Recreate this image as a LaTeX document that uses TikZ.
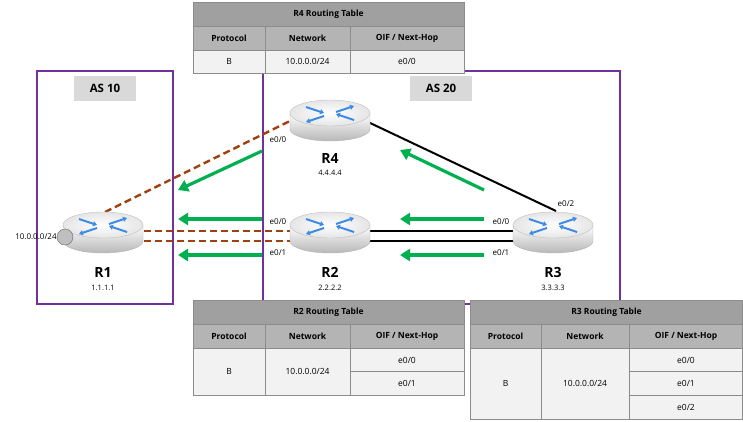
\documentclass[tikz,border=0pt]{standalone}
\usepackage{fontspec}
\setmainfont{Open Sans}
\usetikzlibrary{arrows.meta}
\definecolor{hdr}{HTML}{B4B4B4}
\definecolor{ttl}{HTML}{A0A0A0}
\definecolor{cell}{HTML}{F2F2F2}
\definecolor{brn}{HTML}{A0400F}
\definecolor{grn}{HTML}{00B050}
\definecolor{pur}{HTML}{7030A0}
\definecolor{rblue}{HTML}{3C8CE6}
\tikzset{
  asbox/.style={draw=pur,line width=1.3pt},
  aslabel/.style={fill=black!15,font=\bfseries\fontsize{11.5}{12}\selectfont,minimum width=62pt,minimum height=25pt,inner sep=0pt},
  dsh/.style={brn,line width=2.4pt,dash pattern=on 7pt off 4pt},
  blk/.style={black,line width=2pt},
  garr/.style={grn,line width=3.2pt,-{Triangle[length=10pt,width=12pt]}},
  ifl/.style={font=\fontsize{8}{9}\selectfont,inner sep=0pt},
  rname/.style={font=\bfseries\fontsize{14}{15}\selectfont,inner sep=0pt},
  rip/.style={font=\fontsize{7.5}{8}\selectfont,inner sep=0pt},
  tcell/.style={draw=black!45,line width=0.6pt},
  tt/.style={font=\fontsize{8.5}{10}\selectfont,inner sep=0pt},
  tb/.style={font=\bfseries\fontsize{8.5}{10}\selectfont,inner sep=0pt},
  rarr/.style={rblue,line width=2pt,-{Triangle[length=4pt,width=5pt]}},
  router/.pic={
    \shade[top color=white,bottom color=black!28,draw=black!30] (-40,0) -- (-40,16) arc[start angle=180,end angle=0,x radius=40,y radius=12] -- (40,0) -- cycle;
    \shade[inner color=white,outer color=black!10,draw=black!25] (0,0) ellipse[x radius=40,y radius=13];
    \draw[rarr] (-24,-6) -- (-6,0);
    \draw[rarr] (-6,3) -- (-24,9);
    \draw[rarr] (6,-1) -- (24,-7);
    \draw[rarr] (24,7) -- (6,1);
  }
}
\begin{document}
\begin{tikzpicture}[x=1pt,y=-1pt]
\useasboundingbox (0,0) rectangle (743,421);
% AS boxes
\draw[asbox] (37,71) rectangle (173,304);
\draw[asbox] (263,71) rectangle (620,304);
\node[aslabel] (as10) at (105,88) {AS 10};
\node[aslabel] (as20) at (441,88) {AS 20};
% links
\coordinate (r1a) at (105,212); \coordinate (r4a) at (292,120);
\draw[dsh] (r1a) -- (r4a);
\coordinate (r1b) at (144,231); \coordinate (r2b) at (292,231);
\coordinate (r1c) at (144,241); \coordinate (r2c) at (292,241);
\draw[dsh] (r1b) -- (r2b); \draw[dsh] (r1c) -- (r2c);
\coordinate (r2d) at (368,231); \coordinate (r3d) at (515,231);
\coordinate (r2e) at (368,241); \coordinate (r3e) at (515,241);
\draw[blk] (r2d) -- (r3d); \draw[blk] (r2e) -- (r3e);
\coordinate (r4f) at (368,122); \coordinate (r3f) at (556,211);
\draw[blk] (r4f) -- (r3f);
% routers
\pic at (103,225) {router}; \pic at (330,225) {router};
\pic at (553,225) {router}; \pic at (330,113) {router};
\node[draw=black!60,fill=black!25,circle,minimum size=16pt,inner sep=0pt] (net) at (65,237) {};
\node[ifl,anchor=east] (netl) at (net.west) {10.0.0.0/24};
\node[rname] (R1) at (103,272) {R1}; \node[rip] (ip1) at (103,288) {1.1.1.1};
\node[rname] (R2) at (330,272) {R2}; \node[rip] (ip2) at (330,288) {2.2.2.2};
\node[rname] (R3) at (553,272) {R3}; \node[rip] (ip3) at (553,288) {3.3.3.3};
\node[rname] (R4) at (330,158) {R4}; \node[rip] (ip4) at (330,173) {4.4.4.4};
% interface labels
\node[ifl] (i1) at (278,140) {e0/0};
\node[ifl] (i2) at (278,222) {e0/0};
\node[ifl] (i3) at (278,253) {e0/1};
\node[ifl] (i4) at (501,222) {e0/0};
\node[ifl] (i5) at (501,253) {e0/1};
\node[ifl] (i6) at (566,204) {e0/2};
% green arrows
\coordinate (g1s) at (262,151); \coordinate (g1e) at (178,190);
\coordinate (g2s) at (262,219); \coordinate (g2e) at (178,219);
\coordinate (g3s) at (262,255); \coordinate (g3e) at (178,255);
\coordinate (g4s) at (484,219); \coordinate (g4e) at (400,219);
\coordinate (g5s) at (484,255); \coordinate (g5e) at (400,255);
\coordinate (g6s) at (484,190); \coordinate (g6e) at (400,150);
\foreach \a in {1,...,6} {\draw[garr] (g\a s) -- (g\a e);}
% R4 table
\begin{scope}
\fill[ttl] (193,2) rectangle (464,26);
\fill[hdr] (193,26) rectangle (464,50);
\fill[cell] (193,50) rectangle (464,73);
\draw[tcell] (193,2) rectangle (464,73);
\draw[tcell] (193,26) -- (464,26) (193,50) -- (464,50);
\draw[tcell] (265,26) -- (265,73) (350,26) -- (350,73);
\node[tb] (t4) at (328.5,14) {R4 Routing Table};
\node[tb] at (229,38) {Protocol}; \node[tb] at (307.5,38) {Network}; \node[tb] at (407,38) {OIF / Next-Hop};
\node[tt] at (229,61.5) {B}; \node[tt] at (307.5,61.5) {10.0.0.0/24}; \node[tt] at (407,61.5) {e0/0};
\end{scope}
% R2 table
\begin{scope}
\fill[ttl] (193,300) rectangle (464,324);
\fill[hdr] (193,324) rectangle (464,348);
\fill[cell] (193,348) rectangle (464,395);
\draw[tcell] (193,300) rectangle (464,395);
\draw[tcell] (193,324) -- (464,324) (193,348) -- (464,348) (350,371.5) -- (464,371.5);
\draw[tcell] (265,324) -- (265,395) (350,324) -- (350,395);
\node[tb] (t2) at (328.5,312) {R2 Routing Table};
\node[tb] at (229,336) {Protocol}; \node[tb] at (307.5,336) {Network}; \node[tb] at (407,336) {OIF / Next-Hop};
\node[tt] at (229,371.5) {B}; \node[tt] at (307.5,371.5) {10.0.0.0/24};
\node[tt] at (407,360) {e0/0}; \node[tt] at (407,383) {e0/1};
\end{scope}
% R3 table
\begin{scope}
\fill[ttl] (470,300) rectangle (743,324);
\fill[hdr] (470,324) rectangle (743,348);
\fill[cell] (470,348) rectangle (743,419);
\draw[tcell] (470,300) rectangle (742.5,419);
\draw[tcell] (470,324) -- (743,324) (470,348) -- (743,348) (629,371.5) -- (743,371.5) (629,395) -- (743,395);
\draw[tcell] (541,324) -- (541,419) (629,324) -- (629,419);
\node[tb] (t3) at (606.5,312) {R3 Routing Table};
\node[tb] at (505.5,336) {Protocol}; \node[tb] at (585,336) {Network}; \node[tb] at (686,336) {OIF / Next-Hop};
\node[tt] at (505.5,383.5) {B}; \node[tt] at (585,383.5) {10.0.0.0/24};
\node[tt] at (686,360) {e0/0}; \node[tt] at (686,383) {e0/1}; \node[tt] at (686,407) {e0/2};
\end{scope}
\end{tikzpicture}
\end{document}
